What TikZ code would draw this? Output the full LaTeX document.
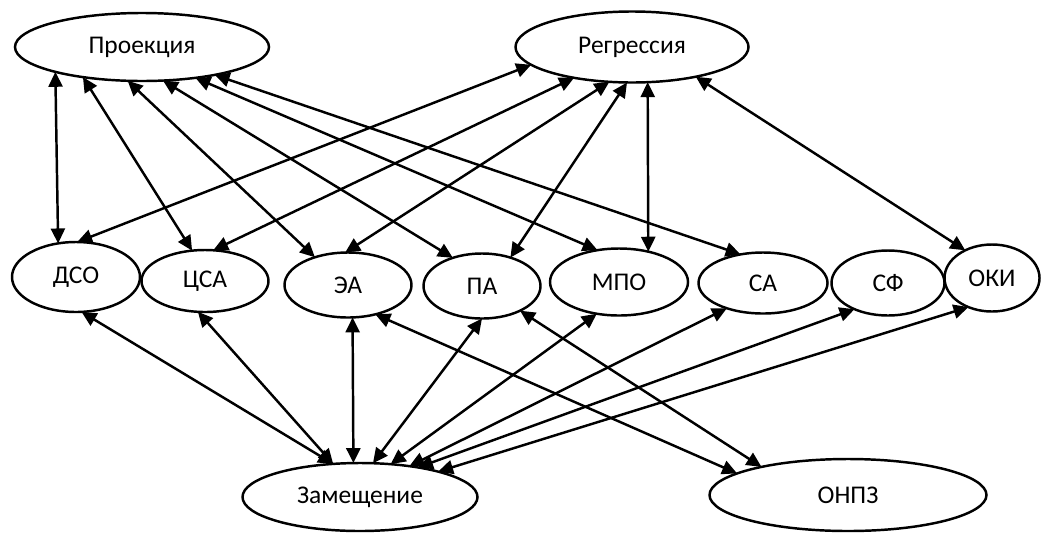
\documentclass[tikz,border=0pt]{standalone}
\usepackage{fontspec}
\setmainfont{Carlito}
\usetikzlibrary{shapes.geometric}
\usetikzlibrary{arrows.meta}

\tikzset{
  oval/.style={ellipse, draw, line width=1.4pt, inner sep=0pt, outer sep=0pt,
    font=\fontsize{14.5}{17}\selectfont},
  link/.style={line width=1.4pt, <->, >={Triangle[length=8.5pt,width=8pt]}}
}

\begin{document}
\begin{tikzpicture}[x=0.2mm, y=-0.2mm]
    \useasboundingbox (0,0) rectangle (1044,533);

    % Top row
    \node[oval, minimum width=50.8mm, minimum height=13.6mm] (proj) at (142,47) {Проекция};
    \node[oval, minimum width=46.6mm, minimum height=14.2mm] (regr) at (632,47) {Регрессия};

    % Middle row
    \node[oval, minimum width=25.6mm, minimum height=14mm]   (dso) at (76,277)  {ДСО};
    \node[oval, minimum width=25.4mm, minimum height=12.4mm] (csa) at (205,281) {ЦСА};
    \node[oval, minimum width=25.4mm, minimum height=13mm]   (ea)  at (348,285) {ЭА};
    \node[oval, minimum width=23.4mm, minimum height=13mm]   (pa)  at (482,286) {ПА};
    \node[oval, minimum width=27.6mm, minimum height=13.4mm] (mpo) at (619,282) {МПО};
    \node[oval, minimum width=25.8mm, minimum height=12.2mm] (sa)  at (763,283) {СА};
    \node[oval, minimum width=22.6mm, minimum height=13mm]   (sf)  at (888,283) {СФ};
    \node[oval, minimum width=19mm,   minimum height=13.4mm] (oki) at (992,278) {ОКИ};

    % Bottom row
    \node[oval, minimum width=47mm,   minimum height=13.6mm] (zam)  at (360,497) {Замещение};
    \node[oval, minimum width=55.4mm, minimum height=14.4mm] (onpz) at (848,495) {ОНПЗ};

    % Links to Проекция
    \foreach \t/\a in {dso.118.5/196.4, csa.113.4/207.8, ea.140.7/247.6,
                       pa.136/302.1, mpo.124.5/330.9, sa.128.4/339} {
        \draw[link] (proj.\a) -- (\t);
    }

    % Links to Регрессия
    \foreach \t/\a in {dso.88.4/190.9, csa.75.5/208.5, ea.95.4/237.8,
                       pa.45/262, mpo.46/294.6, oki.134.1/335.6} {
        \draw[link] (regr.\a) -- (\t);
    }

    % Links to Замещение
    \foreach \t/\a in {dso.279.7/129.5, csa.257.3/129.5, ea.278.7/101.6,
                       pa.270/69.1, mpo.235.5/47.7, sa.215.8/32.9,
                       sf.218.2/27.3, oki.231.7/18.7} {
        \draw[link] (zam.\a) -- (\t);
    }

    % Links to ОНПЗ
    \foreach \t/\a in {ea.313/169, pa.327/162.4} {
        \draw[link] (onpz.\a) -- (\t);
    }
\end{tikzpicture}
\end{document}
